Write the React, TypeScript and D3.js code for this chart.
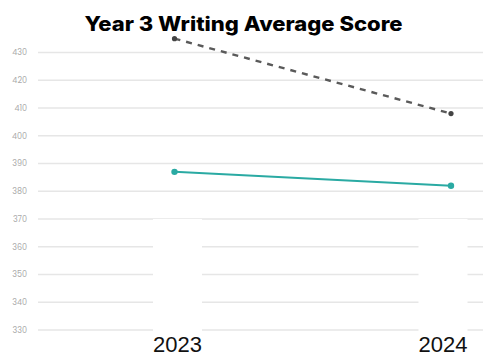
import React from "react";
import * as d3 from "d3";

const W = 483;
const H = 355;

const title = "Year 3 Writing Average Score";
const years = ["2023", "2024"];
const schoolScores = [387, 382];
const stateScores = [435, 408];
const yTicks = [330, 340, 350, 360, 370, 380, 390, 400, 410, 420, 430];

export default function App() {
  const x = d3.scalePoint<string>().domain(years).range([174.5, 451]);
  const y = d3.scaleLinear().domain([330, 430]).range([330, 52.5]);

  const line = d3
    .line<number>()
    .x((_, i) => x(years[i]) as number)
    .y((d) => y(d));

  return (
    <div style={{ position: "fixed", left: 0, top: 0 }}>
      <svg width={W} height={H} style={{ display: "block", background: "#fff" }}>
        {/* horizontal gridlines */}
        {yTicks.map((t) => (
          <line
            key={t}
            x1={38}
            x2={W}
            y1={y(t)}
            y2={y(t)}
            stroke="#e6e6e6"
            strokeWidth={1.6}
          />
        ))}
        {/* y tick labels */}
        {yTicks.map((t) => (
          <text
            key={"l" + t}
            x={27}
            y={y(t)}
            dy="0.35em"
            textAnchor="end"
            fontFamily="Poppins, 'Noto Sans', sans-serif"
            fontSize={8}
            fill="#aaaaaa"
          >
            {t}
          </text>
        ))}

        {/* state average, dashed */}
        <path
          d={line(stateScores) || ""}
          fill="none"
          stroke="#5a5a5a"
          strokeWidth={2.4}
          strokeDasharray="6,6"
        />
        {stateScores.map((v, i) => (
          <circle key={"s" + i} cx={x(years[i])} cy={y(v)} r={2.6} fill="#444" />
        ))}

        {/* school average */}
        <path d={line(schoolScores) || ""} fill="none" stroke="#2aaaa3" strokeWidth={2} />
        {schoolScores.map((v, i) => (
          <circle key={"c" + i} cx={x(years[i])} cy={y(v)} r={3.2} fill="#2aaaa3" />
        ))}

        {/* x labels with white backing */}
        {years.map((yr, i) => {
          const cx = (x(yr) as number) + (i === 0 ? 3 : -8);
          return (
            <g key={yr}>
              <rect x={cx - 24.5} y={219} width={49} height={H - 219} fill="#fff" />
              <text
                x={cx}
                y={352}
                textAnchor="middle"
                fontFamily="'Liberation Sans', Arial, sans-serif"
                fontSize={22}
                fill="#111"
              >
                {yr}
              </text>
            </g>
          );
        })}

        {/* title */}
        <text
          x={243.5}
          y={31}
          textAnchor="middle"
          fontFamily="Inter, 'Noto Sans', sans-serif"
          fontWeight={800}
          fontSize={20}
          textLength={318}
          lengthAdjust="spacingAndGlyphs"
          fill="#000"
        >
          {title}
        </text>
      </svg>
    </div>
  );
}
